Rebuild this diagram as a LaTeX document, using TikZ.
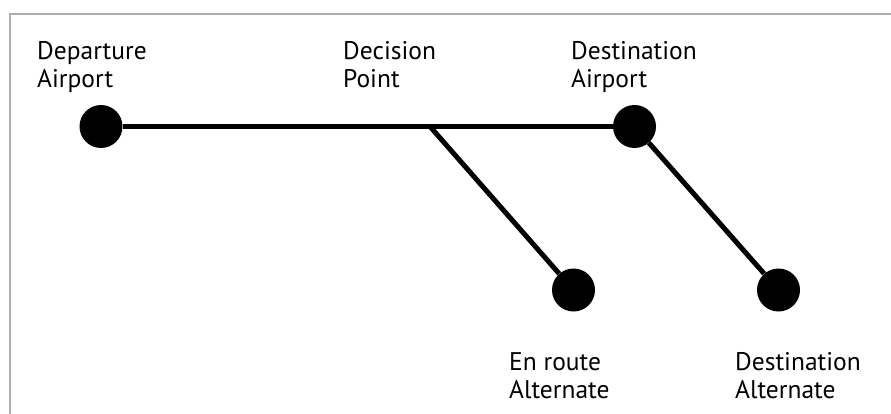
\documentclass[tikz,border=0pt]{standalone}
\usepackage{fontspec}
\setmainfont{PT Sans}
\begin{document}
\begin{tikzpicture}[x=1pt,y=-1pt,
  frame/.style={draw=black!32,line width=2pt},
  dot/.style={circle,fill=black,inner sep=0pt,minimum size=43pt},
  route/.style={line width=5pt},
  lbl/.style={align=left,inner sep=0pt,anchor=base west,
    font=\fontsize{25.5}{28}\selectfont}]
  \useasboundingbox (0,0) rectangle (891,414);
  % open frame: top and left edges only
  \draw[frame] (891,14) -- (10,14) -- (10,414);
  % airports and alternates
  \node[dot] (dep) at (101,126.5) {};
  \node[dot] (dest) at (634.5,126.5) {};
  \node[dot] (enroute) at (573.5,290) {};
  \node[dot] (destalt) at (778.5,290) {};
  \coordinate (dp) at (430,126.5);
  % routes
  \draw[route] (dep) -- (dest);
  \draw[route] (dp) -- (enroute);
  \draw[route] (dest) -- (destalt);
  % labels (anchored on the baseline of the second line)
  \node[lbl] (tdep) at (37,87.5) {Departure\\Airport};
  \node[lbl] (tdp) at (343,87.5) {Decision\\Point};
  \node[lbl] (tdest) at (571,87.5) {Destination\\Airport};
  \node[lbl] (tenr) at (509,398) {En route\\Alternate};
  \node[lbl] (tdalt) at (735,398) {Destination\\Alternate};
\end{tikzpicture}
\end{document}
